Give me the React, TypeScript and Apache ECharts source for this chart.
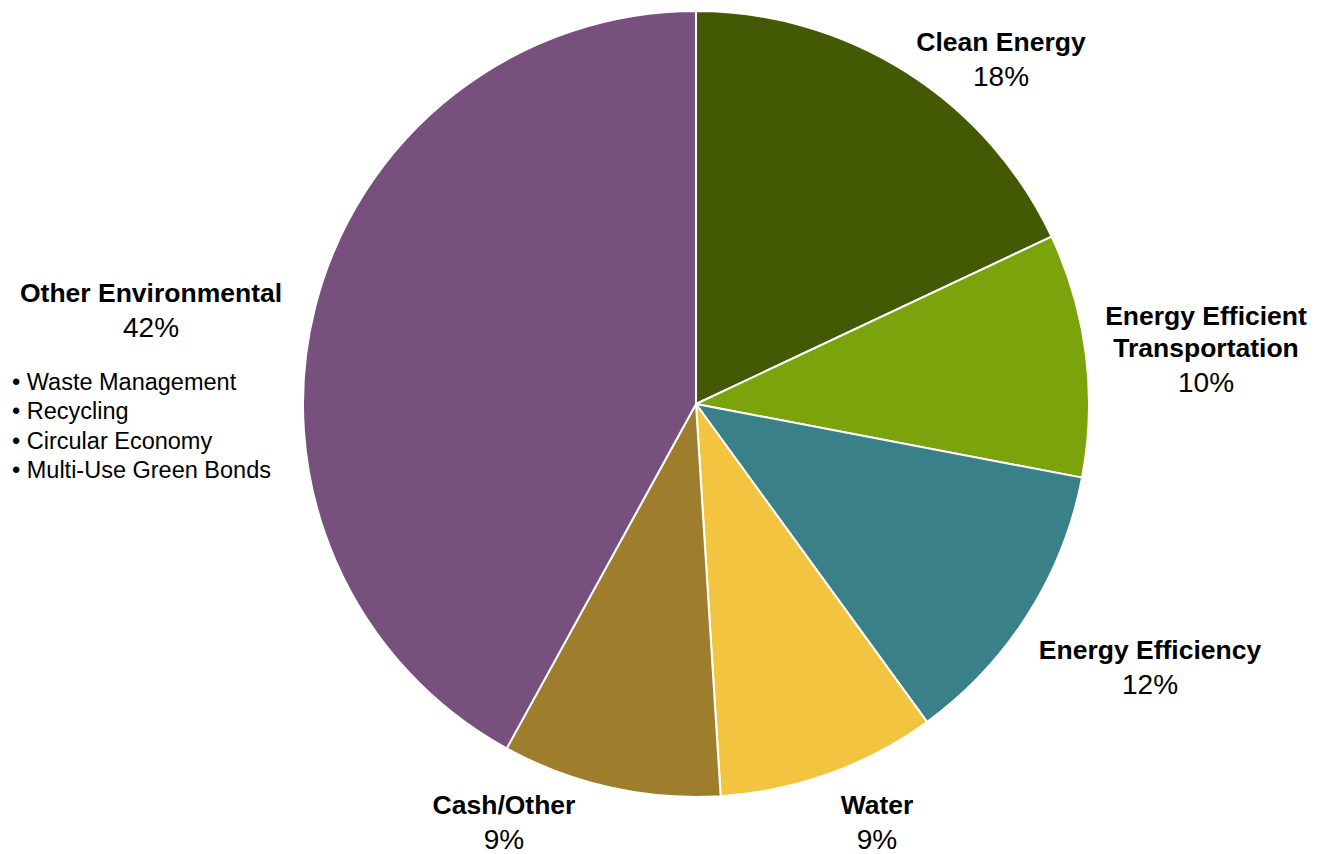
import React, { useEffect, useRef } from "react";
import * as echarts from "echarts";

const categories = [
  "Clean Energy",
  "Energy Efficient\nTransportation",
  "Energy Efficiency",
  "Water",
  "Cash/Other",
  "Other Environmental",
];
const shares = [18, 10, 12, 9, 9, 42];
const colors = ["#435903", "#7AA30C", "#3A8089", "#F3C43F", "#9E7E2C", "#77507D"];
const otherItems = ["Waste Management", "Recycling", "Circular Economy", "Multi-Use Green Bonds"];

// label block centres (layout, not data)
const labelPos: [number, number][] = [
  [1001, 60],
  [1206, 350],
  [1150, 668],
  [877, 823],
  [504, 823],
  [151, 311],
];

const FONT = '"Liberation Sans", Arial, Helvetica, sans-serif';

export default function App() {
  const ref = useRef<HTMLDivElement>(null);
  useEffect(() => {
    if (!ref.current) return;
    const chart = echarts.init(ref.current, undefined, { renderer: "svg" });
    chart.setOption({
      animation: false,
      backgroundColor: "#ffffff",
      textStyle: { fontFamily: FONT },
      series: [
        {
          type: "pie",
          center: [696, 404],
          radius: [0, 393],
          startAngle: 90,
          clockwise: true,
          avoidLabelOverlap: false,
          itemStyle: { borderColor: "#ffffff", borderWidth: 2 },
          emphasis: { disabled: true },
          labelLine: { show: false },
          label: {
            show: true,
            position: "outside",
            fontFamily: FONT,
            formatter: (p: any) => {
              const lines = String(p.name)
                .split("\n")
                .map((l: string) => `{name|${l}}`)
                .join("\n");
              return `${lines}\n{pct|${p.value}%}`;
            },
            rich: {
              name: {
                fontFamily: FONT,
                fontWeight: "bold",
                fontSize: 26.5,
                lineHeight: 32,
                color: "#000",
                align: "center",
              },
              pct: {
                fontFamily: FONT,
                fontSize: 28,
                lineHeight: 36,
                color: "#000",
                align: "center",
              },
            },
          },
          labelLayout: (params: any) => {
            const pos = labelPos[params.dataIndex];
            return {
              x: pos[0],
              y: pos[1],
              align: "center",
              verticalAlign: "middle",
              hideOverlap: false,
            };
          },
          data: categories.map((name, i) => ({
            name,
            value: shares[i],
            itemStyle: { color: colors[i] },
          })),
        },
      ],
      graphic: [
        {
          type: "text",
          left: 12,
          top: 367,
          style: {
            text: otherItems.map((t) => `\u2022 ${t}`).join("\n"),
            fontFamily: FONT,
            fontSize: 23.5,
            lineHeight: 29.5,
            fill: "#000",
          },
        },
      ],
    });
    return () => chart.dispose();
  }, []);
  return <div ref={ref} style={{ width: 1321, height: 854, position: "absolute", left: 0, top: 0 }} />;
}
